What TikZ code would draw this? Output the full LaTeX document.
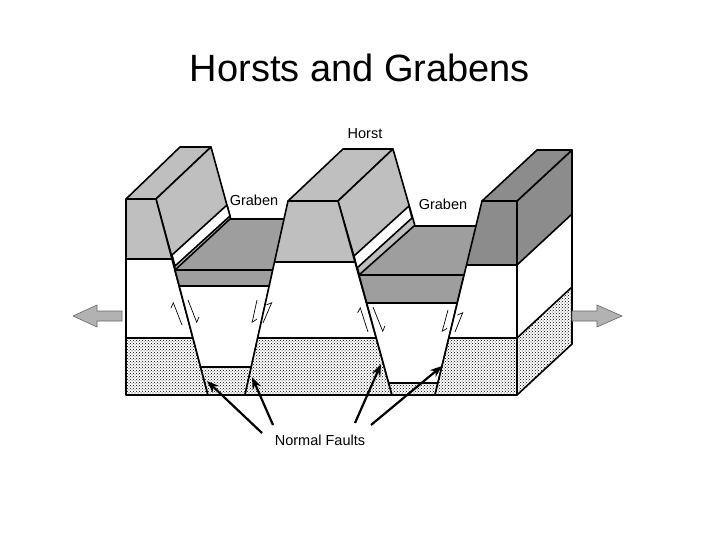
\documentclass[tikz,border=0pt]{standalone}
\usepackage{fontspec}
\setmainfont{Liberation Sans}
\usetikzlibrary{patterns,arrows.meta}
\tikzset{
  ln/.style={line width=1.6pt, line join=round},
  lt/.style={fill=black!25},
  md/.style={fill=black!38},
  dk/.style={fill=black!45},
  dotsf/.style={pattern=crosshatch dots, pattern color=black},
  lbl/.style={font=\fontsize{14.5}{16}\selectfont, inner sep=1pt},
  harp/.style={line width=0.7pt, -{Straight Barb[left,length=4pt]}},
  big/.style={line width=2.2pt, -{Stealth[length=12pt,width=9pt]}},
  sarr/.style={fill=black!30, draw=black!60, line width=0.6pt}
}
\newcommand{\bands}[5]{%
  \begin{scope}
    \clip #1;
    \fill[#5] (0,#2) rectangle (720,#3);
    \fill[white] (0,#3) rectangle (720,#4);
    \fill[white] (0,#4) rectangle (720,396);
    \fill[dotsf] (0,#4) rectangle (720,396);
    \draw[ln] (0,#3) -- (720,#3);
    \draw[ln] (0,#4) -- (720,#4);
  \end{scope}
  \draw[ln] #1;
}
\begin{document}
\begin{tikzpicture}[x=1pt,y=-1pt]
\useasboundingbox (0,0) rectangle (720,540);
\node (title) at (360,68) {\fontsize{38}{42}\selectfont Horsts and Grabens};
% right side face
\begin{scope}
  \clip (517,201) -- (572,150) -- (572,344) -- (517,395) -- cycle;
  \fill[dk] (517,201) -- (572,150) -- (572,214) -- (517,265) -- cycle;
  \fill[white] (517,265) -- (572,214) -- (572,287) -- (517,338) -- cycle;
  \fill[dotsf] (517,338) -- (572,287) -- (572,344) -- (517,395) -- cycle;
  \draw[ln] (517,265) -- (572,214);
  \draw[ln] (517,338) -- (572,287);
\end{scope}
\draw[ln] (517,201) -- (572,150) -- (572,344) -- (517,395) -- cycle;
% top faces
\draw[ln,lt] (126,199) -- (156,199) -- (211,147) -- (180,147) -- cycle;
\draw[ln,lt] (288,201) -- (338,201) -- (393,149) -- (343,149) -- cycle;
\draw[ln,dk] (482,201) -- (517,201) -- (572,150) -- (537,150) -- cycle;
% fault faces
\draw[ln,lt] (156,199) -- (211,147) -- (231,220) -- (176,272) -- cycle;
\draw[ln,fill=white] (172,255) -- (227,205) -- (230,216) -- (175,266) -- cycle;
\draw[ln,lt] (338,201) -- (393,149) -- (415,226) -- (360,277) -- cycle;
\draw[ln,fill=white] (354,256) -- (409,206) -- (412,218) -- (357,268) -- cycle;
% graben tops
\draw[ln,md] (175,270) -- (273,270) -- (328,219) -- (230,219) -- cycle;
\draw[ln,md] (359,275) -- (464,275) -- (500,226) -- (414,226) -- cycle;
% front faces
\bands{(126,199) -- (156,199) -- (208,395) -- (126,395) -- cycle}{199}{259}{338}{lt}
\bands{(175,270) -- (273,270) -- (245,395) -- (208,395) -- cycle}{270}{286}{367}{md}
\bands{(288,201) -- (338,201) -- (392,395) -- (245,395) -- cycle}{201}{262}{338}{lt}
\bands{(359,275) -- (464,275) -- (435,395) -- (392,395) -- cycle}{275}{303}{383}{md}
\bands{(482,201) -- (517,201) -- (517,395) -- (435,395) -- cycle}{201}{265}{338}{dk}
% fault slip arrows
\draw[harp] (182,325) -- (173,302);
\draw[harp] (188,300) -- (197,323);
\draw[harp] (257,300) -- (252,323);
\draw[harp] (263,323) -- (272,302);
\draw[harp] (368,332) -- (360,307);
\draw[harp] (373,307) -- (383,332);
\draw[harp] (448,310) -- (442,332);
\draw[harp] (455,332) -- (463,312);
% side arrows
\draw[sarr] (122,311) -- (97,311) -- (97,305) -- (73,316) -- (97,327) -- (97,321) -- (122,321) -- cycle;
\draw[sarr] (572,311) -- (597,311) -- (597,305) -- (622,316) -- (597,327) -- (597,321) -- (572,321) -- cycle;
% labels
\node[lbl] (horst) at (365,134) {Horst};
\node[lbl] (g1) at (254,200) {Graben};
\node[lbl] (g2) at (443,204) {Graben};
\node[lbl] (nf) at (320,440) {Normal Faults};
\coordinate (f1) at (207,381);
\coordinate (f2) at (252,377);
\coordinate (f3) at (381,364);
\coordinate (f4) at (442,366);
\draw[big] (262,433) -- (f1);
\draw[big] (273,425) -- (f2);
\draw[big] (355,423) -- (f3);
\draw[big] (371,425) -- (f4);
\end{tikzpicture}
\end{document}
